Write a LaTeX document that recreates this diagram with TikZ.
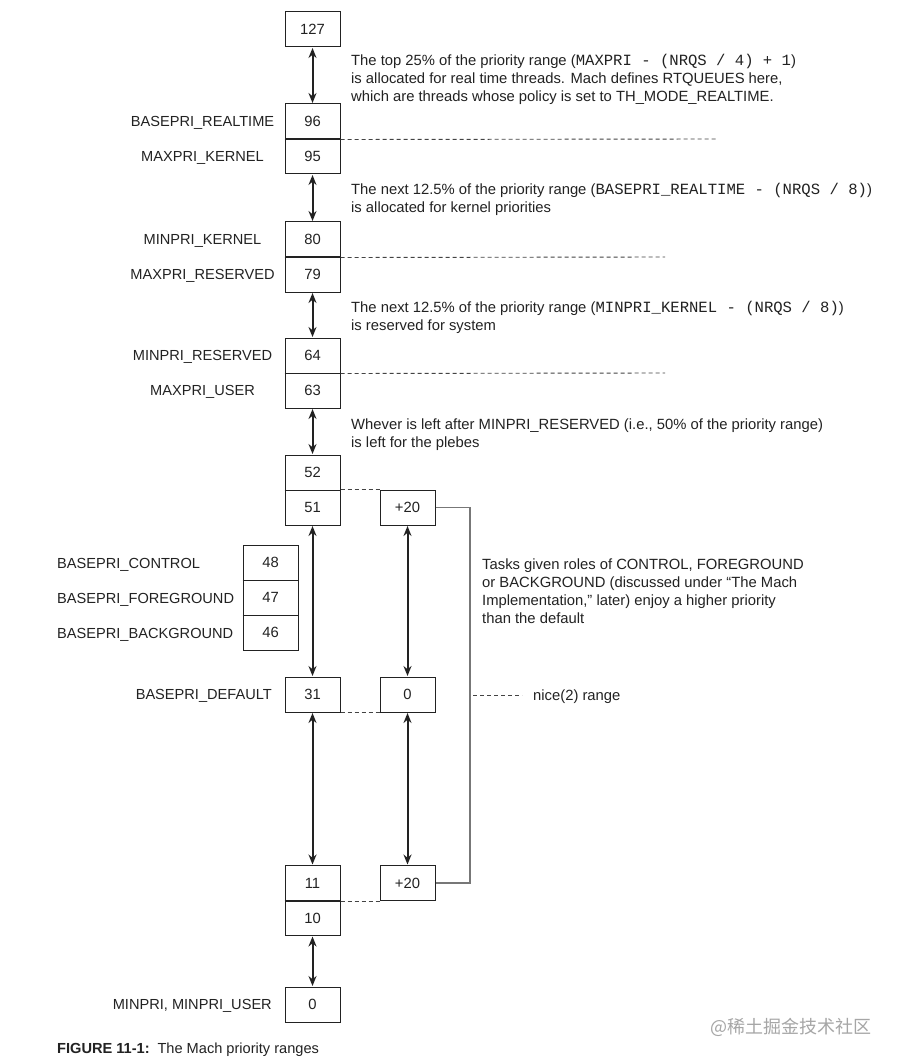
\documentclass[tikz,border=0pt]{standalone}
\usepackage{fontspec}
\setmainfont{Liberation Sans}
\setmonofont{Liberation Mono}
\newfontfamily\cjk{Noto Sans CJK SC}
\usetikzlibrary{arrows.meta}
\definecolor{ink}{HTML}{222222}
\definecolor{brk}{HTML}{777777}
\tikzset{
  pbox/.style={draw=ink, line width=1pt, minimum width=55pt, minimum height=35pt, inner sep=0pt, text=ink, font=\fontsize{14.8}{18}\selectfont},
  lbl/.style={inner sep=0pt, text=ink, yshift=-1.5pt, font=\fontsize{14.6}{18}\selectfont},
  note/.style={inner sep=0pt, text=ink, align=left, anchor=west, yshift=-1.8pt, font=\fontsize{14.8}{18}\selectfont},
  rng/.style={{Stealth[length=10pt,width=8pt]}-{Stealth[length=10pt,width=8pt]}, line width=2pt, draw=ink, shorten <=0.5pt, shorten >=0.5pt},
  dsh/.style={draw=ink!85, line width=0.9pt, dash pattern=on 4pt off 3pt},
  sep/.style={draw=ink, line width=1.6pt},
  bracket/.style={draw=brk, line width=1.3pt}
}
\newcommand{\mt}[1]{{\fontsize{15.6}{18}\ttfamily #1}}
\begin{document}
\begin{tikzpicture}[x=1pt,y=-1pt]
\useasboundingbox (0,0) rectangle (898,1064);
\fill[white] (0,0) rectangle (898,1064);
% main column
\node[pbox] (b127) at (312.5,29.5) {127};
\node[pbox] (b96) at (312.5,121.5) {96};
\node[pbox] (b95) at (312.5,156.5) {95};
\node[pbox] (b80) at (312.5,239.5) {80};
\node[pbox] (b79) at (312.5,274.5) {79};
\node[pbox] (b64) at (312.5,355.5) {64};
\node[pbox] (b63) at (312.5,390.5) {63};
\node[pbox] (b52) at (312.5,472.5) {52};
\node[pbox] (b51) at (312.5,507.5) {51};
\node[pbox] (b31) at (312.5,694.5) {31};
\node[pbox] (b11) at (312.5,883) {11};
\node[pbox] (b10) at (312.5,918) {10};
\node[pbox] (b0) at (312.5,1004.5) {0};
% side column
\node[pbox] (b48) at (270.5,562.5) {48};
\node[pbox] (b47) at (270.5,597.5) {47};
\node[pbox] (b46) at (270.5,632.5) {46};
% nice column
\node[pbox] (p1) at (407.5,507.5) {+20};
\node[pbox] (n0) at (407.5,694.5) {0};
\node[pbox] (p2) at (407.5,883) {+20};
% separators between stacked boxes
\draw[sep] (b96.south west) -- (b96.south east);
\draw[sep] (b80.south west) -- (b80.south east);
\draw[sep] (b64.south west) -- (b64.south east);
\draw[sep] (b52.south west) -- (b52.south east);
\draw[sep] (b11.south west) -- (b11.south east);
\draw[sep] (b48.south west) -- (b48.south east);
\draw[sep] (b47.south west) -- (b47.south east);
% labels
\node[lbl] (l96) at (202.5,121.5) {BASEPRI\_REALTIME};
\node[lbl] (l95) at (202.5,156.5) {MAXPRI\_KERNEL};
\node[lbl] (l80) at (202.5,239) {MINPRI\_KERNEL};
\node[lbl] (l79) at (202.5,274) {MAXPRI\_RESERVED};
\node[lbl] (l64) at (202.5,355) {MINPRI\_RESERVED};
\node[lbl] (l63) at (202.5,390) {MAXPRI\_USER};
\node[lbl, anchor=west] (l48) at (57,563) {BASEPRI\_CONTROL};
\node[lbl, anchor=west] (l47) at (57,598) {BASEPRI\_FOREGROUND};
\node[lbl, anchor=west] (l46) at (57,633) {BASEPRI\_BACKGROUND};
\node[lbl, anchor=east] (l31) at (272,694.5) {BASEPRI\_DEFAULT};
\node[lbl, anchor=east] (l0) at (272,1004) {MINPRI, MINPRI\_USER};
% notes
\node[note] (t1) at (351,78) {The top 25\% of the priority range (\mt{MAXPRI - (NRQS / 4) + 1})\\is allocated for real time threads. Mach defines RTQUEUES here,\\which are threads whose policy is set to TH\_MODE\_REALTIME.};
\node[note] (t2) at (351,198) {The next 12.5\% of the priority range (\mt{BASEPRI\_REALTIME - (NRQS / 8)})\\is allocated for kernel priorities};
\node[note] (t3) at (351,316) {The next 12.5\% of the priority range (\mt{MINPRI\_KERNEL - (NRQS / 8)})\\is reserved for system};
\node[note] (t4) at (351,432.5) {Whever is left after MINPRI\_RESERVED (i.e., 50\% of the priority range)\\is left for the plebes};
\node[note] (t5) at (482,589.5) {Tasks given roles of CONTROL, FOREGROUND\\or BACKGROUND (discussed under ``The Mach\\Implementation,'' later) enjoy a higher priority\\than the default};
\node[note] (t6) at (533,695) {nice(2) range};
% arrows
\draw[rng] (b127.south) -- (b96.north);
\draw[rng] (b95.south) -- (b80.north);
\draw[rng] (b79.south) -- (b64.north);
\draw[rng] (b63.south) -- (b52.north);
\draw[rng] (b51.south) -- (b31.north);
\draw[rng] (b31.south) -- (b11.north);
\draw[rng] (b10.south) -- (b0.north);
\draw[rng] (p1.south) -- (n0.north);
\draw[rng] (n0.south) -- (p2.north);
% dashed lines
\coordinate (d1) at (717,139);
\coordinate (d2) at (665,257);
\coordinate (d3) at (665,373);
\draw[dsh] (b96.south east) -- (d1);
\draw[dsh] (b80.south east) -- (d2);
\draw[dsh] (b64.south east) -- (d3);
\draw[dsh] (b51.north east) -- (p1.north west);
\draw[dsh] (b31.south east) -- (n0.south west);
\draw[dsh] (b11.south east) -- (p2.south west);
\coordinate (nd1) at (473,695);
\coordinate (nd2) at (522,695);
\draw[dsh] (nd1) -- (nd2);
% bracket
\coordinate (br) at (470,0);
\draw[bracket] (p1.east) -- (p1.east -| br) -- (p2.east -| br) -- (p2.east);
% caption
\node[lbl, anchor=west] (cap) at (57,1048) {\textbf{FIGURE 11-1:}\, The Mach priority ranges};
\node[inner sep=0pt, anchor=east, text=black!35, font=\cjk\fontsize{18}{20}\selectfont] (wm) at (872,1027) {@稀土掘金技术社区};
\end{tikzpicture}
\end{document}
